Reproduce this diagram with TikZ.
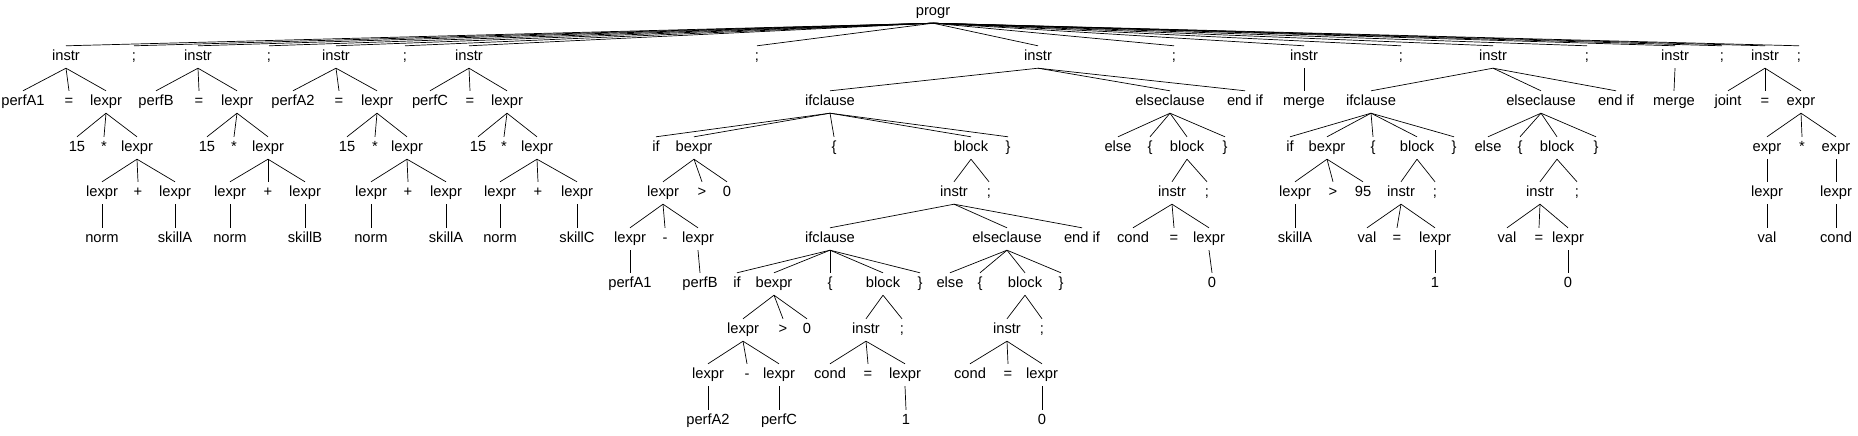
\documentclass[tikz,border=0pt]{standalone}
\usepackage{fontspec}
\setmainfont{Liberation Sans}

\begin{document}
\begin{tikzpicture}[x=1pt,y=-1pt,
  every node/.style={font=\fontsize{14.7}{17}\selectfont,inner sep=3.5pt,text height=11pt,text depth=4pt},
  every edge/.style={draw,line width=0.7pt}]

\useasboundingbox (0,0) rectangle (1858,436);

\node (p) at (933,12) {progr};

\node (i1) at (66,57) {instr};
\node (s1) at (134,57) {;};
\node (i2) at (198,57) {instr};
\node (s2) at (269,57) {;};
\node (i3) at (336,57) {instr};
\node (s3) at (405,57) {;};
\node (i4) at (469,57) {instr};
\node (s4) at (757,57) {;};
\node (i5) at (1038,57) {instr};
\node (s5) at (1174,57) {;};
\node (i6) at (1304,57) {instr};
\node (s6) at (1401,57) {;};
\node (i7) at (1493,57) {instr};
\node (s7) at (1587,57) {;};
\node (i8) at (1675,57) {instr};
\node (s8) at (1722,57) {;};
\node (i9) at (1765,57) {instr};
\node (s9) at (1799,57) {;};

\node (v1) at (23,102) {perfA1};
\node (q1) at (69,102) {=};
\node (l1) at (106,102) {lexpr};
\node (v2) at (156,102) {perfB};
\node (q2) at (199,102) {=};
\node (l2) at (237,102) {lexpr};
\node (v3) at (293,102) {perfA2};
\node (q3) at (339,102) {=};
\node (l3) at (377,102) {lexpr};
\node (v4) at (430,102) {perfC};
\node (q4) at (470,102) {=};
\node (l4) at (507,102) {lexpr};
\node (if1) at (830,102) {ifclause};
\node (el1) at (1170,102) {elseclause};
\node (ei1) at (1245,102) {end if};
\node (mg1) at (1304,102) {merge};
\node (if2) at (1371,102) {ifclause};
\node (el2) at (1541,102) {elseclause};
\node (ei2) at (1616,102) {end if};
\node (mg2) at (1674,102) {merge};
\node (jt) at (1728,102) {joint};
\node (q5) at (1765,102) {=};
\node (ex) at (1801,102) {expr};

\node (n1) at (77,148) {15};
\node (t1) at (104,148) {*};
\node (l1b) at (137,148) {lexpr};
\node (n2) at (207,148) {15};
\node (t2) at (234,148) {*};
\node (l2b) at (268,148) {lexpr};
\node (n3) at (347,148) {15};
\node (t3) at (375,148) {*};
\node (l3b) at (407,148) {lexpr};
\node (n4) at (478,148) {15};
\node (t4) at (504,148) {*};
\node (l4b) at (537,148) {lexpr};
\node (if1a) at (656,148) {if};
\node (be1) at (694,148) {bexpr};
\node (ob1) at (834,148) {\{};
\node (bl1) at (971,148) {block};
\node (cb1) at (1008,148) {\}};
\node (es1) at (1118,148) {else};
\node (ob2) at (1150,148) {\{};
\node (bl2) at (1187,148) {block};
\node (cb2) at (1225,148) {\}};
\node (if2a) at (1290,148) {if};
\node (be2) at (1327,148) {bexpr};
\node (ob3) at (1373,148) {\{};
\node (bl3) at (1417,148) {block};
\node (cb3) at (1454,148) {\}};
\node (es2) at (1488,148) {else};
\node (ob4) at (1520,148) {\{};
\node (bl4) at (1557,148) {block};
\node (cb4) at (1596,148) {\}};
\node (ex1) at (1767,148) {expr};
\node (t5) at (1802,148) {*};
\node (ex2) at (1836,148) {expr};

\node (l1c) at (102,193) {lexpr};
\node (pl1) at (138,193) {+};
\node (l1d) at (175,193) {lexpr};
\node (l2c) at (230,193) {lexpr};
\node (pl2) at (268,193) {+};
\node (l2d) at (305,193) {lexpr};
\node (l3c) at (371,193) {lexpr};
\node (pl3) at (408,193) {+};
\node (l3d) at (446,193) {lexpr};
\node (l4c) at (500,193) {lexpr};
\node (pl4) at (538,193) {+};
\node (l4d) at (577,193) {lexpr};
\node (le1) at (663,193) {lexpr};
\node (gt1) at (702,193) {>};
\node (z1) at (727,193) {0};
\node (in1) at (954,193) {instr};
\node (sm1) at (989,193) {;};
\node (in2) at (1172,193) {instr};
\node (sm2) at (1207,193) {;};
\node (le2) at (1295,193) {lexpr};
\node (gt2) at (1333,193) {>};
\node (c95) at (1363,193) {95};
\node (in3) at (1401,193) {instr};
\node (sm3) at (1435,193) {;};
\node (in4) at (1540,193) {instr};
\node (sm4) at (1577,193) {;};
\node (lx1) at (1767,193) {lexpr};
\node (lx2) at (1836,193) {lexpr};

\node (w1) at (102,239) {norm};
\node (k1) at (175,239) {skillA};
\node (w2) at (230,239) {norm};
\node (k2) at (305,239) {skillB};
\node (w3) at (371,239) {norm};
\node (k3) at (446,239) {skillA};
\node (w4) at (500,239) {norm};
\node (k4) at (577,239) {skillC};
\node (le1a) at (630,239) {lexpr};
\node (mi1) at (665,239) {-};
\node (le1b) at (698,239) {lexpr};
\node (if3) at (830,239) {ifclause};
\node (el3) at (1007,239) {elseclause};
\node (ei3) at (1082,239) {end if};
\node (cd1) at (1133,239) {cond};
\node (q6) at (1174,239) {=};
\node (lx3) at (1209,239) {lexpr};
\node (k5) at (1295,239) {skillA};
\node (va1) at (1367,239) {val};
\node (q7) at (1397,239) {=};
\node (lx4) at (1435,239) {lexpr};
\node (va2) at (1507,239) {val};
\node (q8) at (1539,239) {=};
\node (lx5) at (1568,239) {lexpr};
\node (va3) at (1767,239) {val};
\node (cd2) at (1836,239) {cond};

\node (v5) at (630,284) {perfA1};
\node (v6) at (700,284) {perfB};
\node (if3a) at (737,284) {if};
\node (be3) at (774,284) {bexpr};
\node (ob5) at (830,284) {\{};
\node (bl5) at (883,284) {block};
\node (cb5) at (920,284) {\}};
\node (es3) at (950,284) {else};
\node (ob6) at (980,284) {\{};
\node (bl6) at (1025,284) {block};
\node (cb6) at (1061,284) {\}};
\node (z2) at (1212,284) {0};
\node (o1) at (1435,284) {1};
\node (z3) at (1568,284) {0};

\node (le3) at (743,330) {lexpr};
\node (gt3) at (783,330) {>};
\node (z4) at (807,330) {0};
\node (in5) at (866,330) {instr};
\node (sm5) at (902,330) {;};
\node (in6) at (1007,330) {instr};
\node (sm6) at (1042,330) {;};

\node (le3a) at (708,375) {lexpr};
\node (mi2) at (747,375) {-};
\node (le3b) at (779,375) {lexpr};
\node (cd3) at (830,375) {cond};
\node (q9) at (868,375) {=};
\node (lx6) at (905,375) {lexpr};
\node (cd4) at (970,375) {cond};
\node (q10) at (1008,375) {=};
\node (lx7) at (1042,375) {lexpr};

\node (v7) at (708,421) {perfA2};
\node (v8) at (779,421) {perfC};
\node (o2) at (906,421) {1};
\node (z5) at (1042,421) {0};

\draw (p.south) edge (i1.north) edge (s1.north) edge (i2.north) edge (s2.north) edge (i3.north) edge (s3.north) edge (i4.north) edge (s4.north) edge (i5.north) edge (s5.north) edge (i6.north) edge (s6.north) edge (i7.north) edge (s7.north) edge (i8.north) edge (s8.north) edge (i9.north) edge (s9.north);

\draw (i1.south) edge (v1.north) edge (q1.north) edge (l1.north);
\draw (i2.south) edge (v2.north) edge (q2.north) edge (l2.north);
\draw (i3.south) edge (v3.north) edge (q3.north) edge (l3.north);
\draw (i4.south) edge (v4.north) edge (q4.north) edge (l4.north);
\draw (i5.south) edge (if1.north) edge (el1.north) edge (ei1.north);
\draw (i6.south) edge (mg1.north);
\draw (i7.south) edge (if2.north) edge (el2.north) edge (ei2.north);
\draw (i8.south) edge (mg2.north);
\draw (i9.south) edge (jt.north) edge (q5.north) edge (ex.north);

\draw (l1.south) edge (n1.north) edge (t1.north) edge (l1b.north);
\draw (l2.south) edge (n2.north) edge (t2.north) edge (l2b.north);
\draw (l3.south) edge (n3.north) edge (t3.north) edge (l3b.north);
\draw (l4.south) edge (n4.north) edge (t4.north) edge (l4b.north);
\draw (if1.south) edge (if1a.north) edge (be1.north) edge (ob1.north) edge (bl1.north) edge (cb1.north);
\draw (el1.south) edge (es1.north) edge (ob2.north) edge (bl2.north) edge (cb2.north);
\draw (if2.south) edge (if2a.north) edge (be2.north) edge (ob3.north) edge (bl3.north) edge (cb3.north);
\draw (el2.south) edge (es2.north) edge (ob4.north) edge (bl4.north) edge (cb4.north);
\draw (ex.south) edge (ex1.north) edge (t5.north) edge (ex2.north);

\draw (l1b.south) edge (l1c.north) edge (pl1.north) edge (l1d.north);
\draw (l2b.south) edge (l2c.north) edge (pl2.north) edge (l2d.north);
\draw (l3b.south) edge (l3c.north) edge (pl3.north) edge (l3d.north);
\draw (l4b.south) edge (l4c.north) edge (pl4.north) edge (l4d.north);
\draw (be1.south) edge (le1.north) edge (gt1.north) edge (z1.north);
\draw (bl1.south) edge (in1.north) edge (sm1.north);
\draw (bl2.south) edge (in2.north) edge (sm2.north);
\draw (be2.south) edge (le2.north) edge (gt2.north) edge (c95.north);
\draw (bl3.south) edge (in3.north) edge (sm3.north);
\draw (bl4.south) edge (in4.north) edge (sm4.north);
\draw (ex1.south) edge (lx1.north);
\draw (ex2.south) edge (lx2.north);

\draw (l1c.south) edge (w1.north);
\draw (l1d.south) edge (k1.north);
\draw (l2c.south) edge (w2.north);
\draw (l2d.south) edge (k2.north);
\draw (l3c.south) edge (w3.north);
\draw (l3d.south) edge (k3.north);
\draw (l4c.south) edge (w4.north);
\draw (l4d.south) edge (k4.north);
\draw (le1.south) edge (le1a.north) edge (mi1.north) edge (le1b.north);
\draw (in1.south) edge (if3.north) edge (el3.north) edge (ei3.north);
\draw (in2.south) edge (cd1.north) edge (q6.north) edge (lx3.north);
\draw (le2.south) edge (k5.north);
\draw (in3.south) edge (va1.north) edge (q7.north) edge (lx4.north);
\draw (in4.south) edge (va2.north) edge (q8.north) edge (lx5.north);
\draw (lx1.south) edge (va3.north);
\draw (lx2.south) edge (cd2.north);

\draw (le1a.south) edge (v5.north);
\draw (le1b.south) edge (v6.north);
\draw (if3.south) edge (if3a.north) edge (be3.north) edge (ob5.north) edge (bl5.north) edge (cb5.north);
\draw (el3.south) edge (es3.north) edge (ob6.north) edge (bl6.north) edge (cb6.north);
\draw (lx3.south) edge (z2.north);
\draw (lx4.south) edge (o1.north);
\draw (lx5.south) edge (z3.north);

\draw (be3.south) edge (le3.north) edge (gt3.north) edge (z4.north);
\draw (bl5.south) edge (in5.north) edge (sm5.north);
\draw (bl6.south) edge (in6.north) edge (sm6.north);

\draw (le3.south) edge (le3a.north) edge (mi2.north) edge (le3b.north);
\draw (in5.south) edge (cd3.north) edge (q9.north) edge (lx6.north);
\draw (in6.south) edge (cd4.north) edge (q10.north) edge (lx7.north);

\draw (le3a.south) edge (v7.north);
\draw (le3b.south) edge (v8.north);
\draw (lx6.south) edge (o2.north);
\draw (lx7.south) edge (z5.north);

\end{tikzpicture}
\end{document}
